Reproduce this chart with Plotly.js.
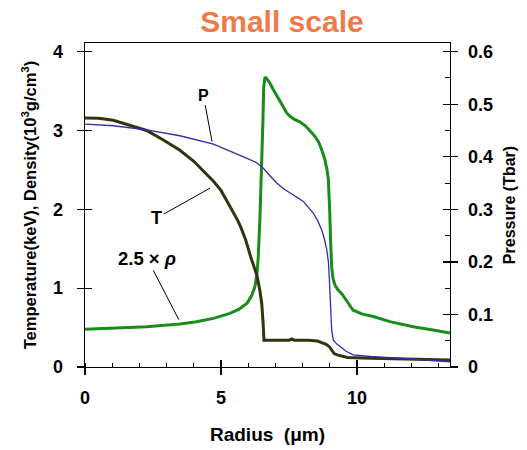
<!DOCTYPE html>
<html>
<head>
<meta charset="utf-8">
<script src="https://cdn.plot.ly/plotly-3.0.1.min.js"></script>
<style>
  html, body { margin: 0; padding: 0; background: #fff; }
  #chart { width: 527px; height: 450px; }
</style>
</head>
<body>
<div id="chart"></div>
<script>
// Radius (μm) and profiles for temperature, pressure and scaled density
const radiusT = [0, 0.5, 1.04, 1.65, 2.27, 2.88, 3.49, 4.0, 4.5, 4.74, 5.0, 5.35, 5.6, 5.72, 5.9, 6.09, 6.22, 6.33, 6.43, 6.5, 6.55, 6.58,
                 7.0, 7.5, 7.6, 7.7, 8.2, 8.55, 8.7, 8.85, 8.98, 9.07, 9.16, 9.3, 9.65, 10.5, 11.5, 12.5, 13.42];
const temperature = [3.16, 3.155, 3.13, 3.07, 3.0, 2.88, 2.75, 2.61, 2.44, 2.35, 2.24, 2.03, 1.87, 1.78, 1.62, 1.40, 1.27, 1.15, 0.97, 0.8, 0.55, 0.34,
                     0.34, 0.34, 0.355, 0.34, 0.34, 0.33, 0.31, 0.29, 0.26, 0.21, 0.17, 0.15, 0.12, 0.11, 0.10, 0.095, 0.09];

const radiusP = [0, 1.04, 2.27, 3.49, 4.72, 5.4, 5.96, 6.3, 6.56, 6.8, 7.05, 7.3, 7.54, 8.03, 8.39, 8.55, 8.7, 8.8, 8.89, 8.95, 8.98, 9.01, 9.03,
                 9.07, 9.13, 9.25, 9.38, 9.6, 9.86, 10.5, 11.25, 12.5, 13.42];
const pressure = [0.462, 0.459, 0.451, 0.44, 0.424, 0.41, 0.397, 0.389, 0.378, 0.364, 0.35, 0.339, 0.331, 0.315, 0.293, 0.279, 0.261, 0.244, 0.223, 0.2, 0.172, 0.135, 0.102,
                  0.07, 0.051, 0.044, 0.039, 0.03, 0.023, 0.02, 0.018, 0.014, 0.01];

const radiusD = [0, 1.04, 2.27, 3.49, 4.1, 4.72, 5.33, 5.65, 5.96, 6.12, 6.25, 6.33, 6.37, 6.43, 6.5, 6.54, 6.57, 6.62,
                 6.7, 6.8, 6.92, 7.1, 7.29, 7.42, 7.54, 7.7, 7.9, 8.1, 8.27, 8.42, 8.58, 8.7, 8.82, 8.9, 8.95, 8.98, 9.0, 9.03, 9.07,
                 9.12, 9.19, 9.3, 9.44, 9.6, 9.86, 10.2, 10.6, 11.21, 12.07, 12.8, 13.42];
const density25 = [0.478, 0.49, 0.51, 0.546, 0.575, 0.617, 0.68, 0.73, 0.81, 0.9, 1.02, 1.2, 1.4, 1.87, 2.5, 3.1, 3.55, 3.68,
                   3.65, 3.6, 3.52, 3.42, 3.30, 3.22, 3.18, 3.14, 3.11, 3.06, 3.0, 2.94, 2.86, 2.76, 2.63, 2.5, 2.37, 2.2, 1.95, 1.6, 1.27,
                   1.12, 1.04, 0.98, 0.93, 0.85, 0.72, 0.67, 0.64, 0.575, 0.51, 0.47, 0.43];

const xRange = [0, 13.42];
const yLeftRange = [0, 4.11];
const yRightRange = [0, 0.6165];

const FONT = 'Liberation Sans, Arial, sans-serif';
const tickFont = { family: FONT, size: 18, color: '#000', weight: 'bold' };

const traces = [
  { x: radiusD, y: density25, mode: 'lines', line: { color: '#1a8c1a', width: 3 }, xaxis: 'x', yaxis: 'y', hoverinfo: 'skip' },
  { x: radiusP, y: pressure, mode: 'lines', line: { color: '#2e2eb0', width: 1.3 }, xaxis: 'x', yaxis: 'y2', hoverinfo: 'skip' },
  { x: radiusT, y: temperature, mode: 'lines', line: { color: '#333310', width: 3 }, xaxis: 'x', yaxis: 'y', hoverinfo: 'skip' },
  // empty traces so the inside tick overlays are drawn
  { x: [null], y: [null], xaxis: 'x2', yaxis: 'y3', hoverinfo: 'skip' },
  { x: [null], y: [null], xaxis: 'x', yaxis: 'y4', hoverinfo: 'skip' }
];

const labelFont = { family: FONT, size: 16, color: '#000', weight: 'bold' };

const layout = {
  width: 527,
  height: 450,
  margin: { l: 85, r: 77, t: 43, b: 83 },
  paper_bgcolor: '#fff',
  plot_bgcolor: '#fff',
  showlegend: false,
  title: {
    text: 'Small scale',
    font: { family: FONT, size: 30, color: '#f07a4a', weight: 'bold' },
    x: 0.535, xanchor: 'center', xref: 'container',
    y: 0.953, yanchor: 'middle', yref: 'container'
  },
  xaxis: {
    range: xRange, dtick: 5, tick0: 0,
    ticks: 'outside', ticklen: 7, tickwidth: 1.3, tickcolor: '#000',
    minor: { dtick: 1, ticks: 'inside', ticklen: 4, tickcolor: '#000', tickwidth: 1 },
    showline: true, linecolor: '#000', linewidth: 1.3, mirror: true,
    showgrid: false, zeroline: false,
    tickfont: tickFont, ticklabelstandoff: 7,
    title: { text: 'Radius\u00a0\u00a0(μm)', font: { family: FONT, size: 19, color: '#000', weight: 'bold' }, standoff: 20 }
  },
  xaxis2: {
    overlaying: 'x', anchor: 'y', range: xRange, dtick: 5, tick0: 0,
    ticks: 'inside', ticklen: 7, tickwidth: 1.3, tickcolor: '#000',
    showticklabels: false, showline: false, showgrid: false, zeroline: false
  },
  yaxis: {
    range: yLeftRange, dtick: 1, tick0: 0,
    ticks: 'outside', ticklen: 7, tickwidth: 1.3, tickcolor: '#000',
    showline: true, linecolor: '#000', linewidth: 1.3,
    showgrid: false, zeroline: false,
    tickfont: tickFont, ticklabelstandoff: 10,
    title: { text: 'Temperature(keV), Density(10<sup>3</sup>g/cm<sup>3</sup>)', font: { family: FONT, size: 16.5, color: '#000', weight: 'bold' }, standoff: 12 }
  },
  yaxis2: {
    overlaying: 'y', side: 'right', anchor: 'x', range: yRightRange,
    ticks: 'outside', ticklen: 7, tickwidth: 1.3, tickcolor: '#000',
    minor: { dtick: 0.05, tick0: 0, ticks: 'inside', ticklen: 5, tickcolor: '#000', tickwidth: 1 },
    showline: true, linecolor: '#000', linewidth: 1.3,
    showgrid: false, zeroline: false,
    tickfont: tickFont, ticklabelstandoff: 6,
    tickvals: [0, 0.1, 0.2, 0.3, 0.4, 0.5, 0.6],
    ticktext: ['0', '0.1', '0.2', '0.3', '0.4', '0.5', '0.6'],
    title: { text: 'Pressure (Tbar)', font: labelFont, standoff: 12 }
  },
  yaxis3: {
    overlaying: 'y', anchor: 'x', range: yLeftRange, dtick: 1, tick0: 0,
    ticks: 'inside', ticklen: 7, tickwidth: 1.3, tickcolor: '#000',
    showticklabels: false, showline: false, showgrid: false, zeroline: false
  },
  yaxis4: {
    overlaying: 'y', side: 'right', anchor: 'x', range: yRightRange, dtick: 0.1, tick0: 0,
    ticks: 'inside', ticklen: 7, tickwidth: 1.3, tickcolor: '#000',
    showticklabels: false, showline: false, showgrid: false, zeroline: false
  },
  annotations: [
    { x: 4.67, y: 2.86, ax: 4.35, ay: 3.45, axref: 'x', ayref: 'y', xref: 'x', yref: 'y',
      text: 'P', showarrow: true, arrowhead: 0, arrowwidth: 1, arrowcolor: '#000',
      font: { family: FONT, size: 16, color: '#000', weight: 'bold' } },
    { x: 4.6, y: 2.27, ax: 2.64, ay: 1.89, axref: 'x', ayref: 'y', xref: 'x', yref: 'y',
      text: 'T', showarrow: true, arrowhead: 0, arrowwidth: 1, arrowcolor: '#000',
      font: { family: FONT, size: 18, color: '#000', weight: 'bold' } },
    { x: 3.45, y: 0.6, ax: 2.28, ay: 1.38, axref: 'x', ayref: 'y', xref: 'x', yref: 'y',
      text: '2.5\u00a0× <i>ρ</i>', showarrow: true, arrowhead: 0, arrowwidth: 1, arrowcolor: '#000',
      font: { family: FONT, size: 18.5, color: '#000', weight: 'bold' } }
  ]
};

Plotly.newPlot('chart', traces, layout, { displayModeBar: false, staticPlot: true });
</script>
</body>
</html>
